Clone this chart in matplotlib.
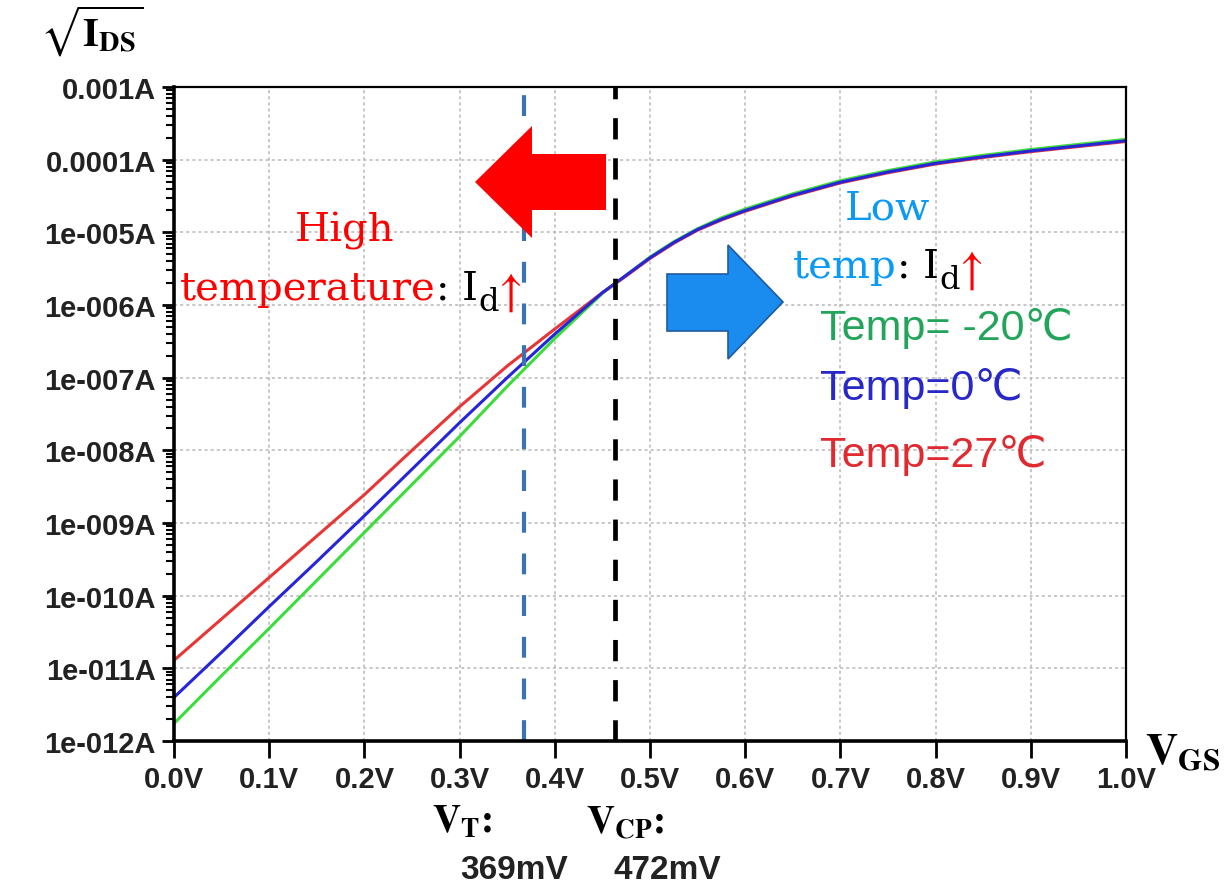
import numpy as np
import matplotlib.pyplot as plt
from matplotlib.ticker import LogLocator, NullFormatter
from matplotlib.patches import Polygon

plt.rcParams['mathtext.fontset'] = 'stix'

# gate voltage (V) and log10 of drain current for the three temperatures
vgs = [0.0, 0.05, 0.1, 0.15, 0.2, 0.25, 0.3, 0.35, 0.4, 0.45, 0.475, 0.5, 0.525,
       0.55, 0.575, 0.6, 0.65, 0.7, 0.75, 0.8, 0.85, 0.9, 0.95, 1.0]
log_id_27 = [-10.89, -10.32, -9.75, -9.18, -8.61, -8.00, -7.40, -6.84, -6.33, -5.83, -5.60, -5.36, -5.15,
             -4.97, -4.83, -4.71, -4.50, -4.32, -4.18, -4.06, -3.97, -3.89, -3.82, -3.75]
log_id_0 = [-11.40, -10.78, -10.15, -9.53, -8.90, -8.26, -7.62, -7.00, -6.40, -5.83, -5.59, -5.35, -5.14,
            -4.96, -4.82, -4.70, -4.49, -4.31, -4.17, -4.05, -3.96, -3.88, -3.81, -3.74]
log_id_m20 = [-11.76, -11.10, -10.45, -9.79, -9.13, -8.47, -7.81, -7.12, -6.46, -5.84, -5.59, -5.34, -5.13,
              -4.95, -4.80, -4.68, -4.47, -4.29, -4.15, -4.03, -3.94, -3.86, -3.79, -3.72]

xticks = [0.0, 0.1, 0.2, 0.3, 0.4, 0.5, 0.6, 0.7, 0.8, 0.9, 1.0]
xlabels = ['0.0V', '0.1V', '0.2V', '0.3V', '0.4V', '0.5V', '0.6V', '0.7V', '0.8V', '0.9V', '1.0V']
yticks = [1e-12, 1e-11, 1e-10, 1e-9, 1e-8, 1e-7, 1e-6, 1e-5, 1e-4, 1e-3]
ylabels = ['1e-012A', '1e-011A', '1e-010A', '1e-009A', '1e-008A', '1e-007A',
           '1e-006A', '1e-005A', '0.0001A', '0.001A']

v_t_line = 0.368
v_cp_line = 0.463

W, H = 1226, 887
fig = plt.figure(figsize=(W / 100, H / 100), dpi=100)
ax = fig.add_axes([174 / W, 1 - 742 / H, 952 / W, 654 / H])

ax.plot(vgs, 10 ** np.array(log_id_m20), color='#3ddc3d', lw=2.2)
ax.plot(vgs, 10 ** np.array(log_id_27), color='#e83535', lw=2.2)
ax.plot(vgs, 10 ** np.array(log_id_0), color='#2626d8', lw=2.2)

ax.axvline(v_t_line, color='#3a72b4', lw=3, dashes=(5, 5))
ax.axvline(v_cp_line, color='black', lw=3.4, dashes=(4.5, 4))

ax.set_yscale('log')
ax.set_xlim(0, 1.0)
ax.set_ylim(1e-12, 1e-3)
ax.set_xticks(xticks, xlabels)
ax.set_yticks(yticks, ylabels)
ax.yaxis.set_minor_locator(LogLocator(base=10, subs=np.arange(2, 10), numticks=100))
ax.yaxis.set_minor_formatter(NullFormatter())
ax.grid(True, which='major', color='#b8b8b8', lw=1.1, ls=(0, (2, 2)))

for lab in ax.get_xticklabels() + ax.get_yticklabels():
    lab.set_fontfamily('Liberation Sans')
    lab.set_fontweight('bold')
    lab.set_fontsize(21)
    lab.set_color('#222222')
ax.tick_params(axis='x', which='major', length=12, width=2, pad=5)
ax.tick_params(axis='y', which='major', length=9, width=2, pad=4)
ax.tick_params(axis='y', which='minor', length=6, width=1.5)
ax.spines['left'].set_linewidth(2.6)
ax.spines['bottom'].set_linewidth(2.6)
ax.spines['top'].set_linewidth(1.6)
ax.spines['right'].set_linewidth(1.6)


def fig_px(px, py):
    return (px, H - py)


def frac(px, py):
    return ((px - 174) / 952, (742 - py) / 654)


# big arrows
red_arrow = [(475, 183), (532, 127), (532, 155), (606, 155), (606, 211), (532, 211), (532, 239)]
ax.add_patch(Polygon([frac(*p) for p in red_arrow], closed=True, transform=ax.transAxes,
                     facecolor='#ff0000', edgecolor='none', zorder=5))
blue_arrow = [(667, 275), (728, 275), (728, 246), (783, 303), (728, 360), (728, 332), (667, 332)]
ax.add_patch(Polygon([frac(*p) for p in blue_arrow], closed=True, transform=ax.transAxes,
                     facecolor='#1a8cf0', edgecolor='#1f5b9e', lw=1.2, zorder=5))


def chain(pieces, px, py):
    prev = None
    for s, color, size, dy, fam in pieces:
        if prev is None:
            prev = ax.annotate(s, xy=fig_px(px, py), xycoords='figure pixels', va='baseline',
                               color=color, fontsize=size, family=fam, annotation_clip=False)
        else:
            prev = ax.annotate(s, xy=(1, 0), xycoords=prev, xytext=(0, dy),
                               textcoords='offset points', va='bottom', color=color,
                               fontsize=size, family=fam, annotation_clip=False)


serif = ['DejaVu Serif', 'DejaVu Sans']
arrow_font = ['STIXGeneral', 'DejaVu Sans']
fig.text(345 / W, 1 - 242 / H, 'High', color='#ff0000', fontsize=29, family=serif,
         ha='center', va='baseline')
chain([('temperature', '#ff0000', 29, 0, serif),
       (': ', 'black', 29, 0, serif),
       ('I', 'black', 29, 0, serif),
       ('d', 'black', 23, -7, serif),
       ('\u2191', '#ff0000', 34, 2, arrow_font)], 180, 300)

fig.text(887 / W, 1 - 220 / H, 'Low', color='#0a9af5', fontsize=29, family=serif,
         ha='center', va='baseline')
chain([('temp', '#0a9af5', 29, 0, serif),
       (': ', 'black', 29, 0, serif),
       ('I', 'black', 29, 0, serif),
       ('d', 'black', 23, -7, serif),
       ('\u2191', '#ff0000', 34, 2, arrow_font)], 793, 278)

sans = ['Liberation Sans', 'DejaVu Sans']
fig.text(820 / W, 1 - 340 / H, 'Temp= -20\u2103', color='#22a55a', fontsize=31, family=sans, va='baseline')
fig.text(820 / W, 1 - 400 / H, 'Temp=0\u2103', color='#2828c8', fontsize=31, family=sans, va='baseline')
fig.text(820 / W, 1 - 467 / H, 'Temp=27\u2103', color='#e02a30', fontsize=31, family=sans, va='baseline')

# axis captions
fig.text(40 / W, 1 - 4 / H, r'$\sqrt{\mathbf{I}_{\mathbf{DS}}}$', fontsize=29, va='top', ha='left')
fig.text(1145 / W, 1 - 765 / H, r'$\mathbf{V}_{\mathbf{GS}}$', fontsize=32, va='baseline', ha='left')
fig.text(432 / W, 1 - 833 / H, r'$\mathbf{V}_{\mathbf{T}}$:', fontsize=28, family='STIXGeneral',
         weight='bold', va='baseline', ha='left')
fig.text(460 / W, 1 - 879 / H, '369mV', fontsize=24, family='Liberation Sans', weight='bold',
         color='#222222', va='baseline', ha='left')
fig.text(586 / W, 1 - 833 / H, r'$\mathbf{V}_{\mathbf{CP}}$:', fontsize=28, family='STIXGeneral',
         weight='bold', va='baseline', ha='left')
fig.text(614 / W, 1 - 879 / H, '472mV', fontsize=24, family='Liberation Sans', weight='bold',
         color='#222222', va='baseline', ha='left')

fig.savefig('out.png', dpi=100)
